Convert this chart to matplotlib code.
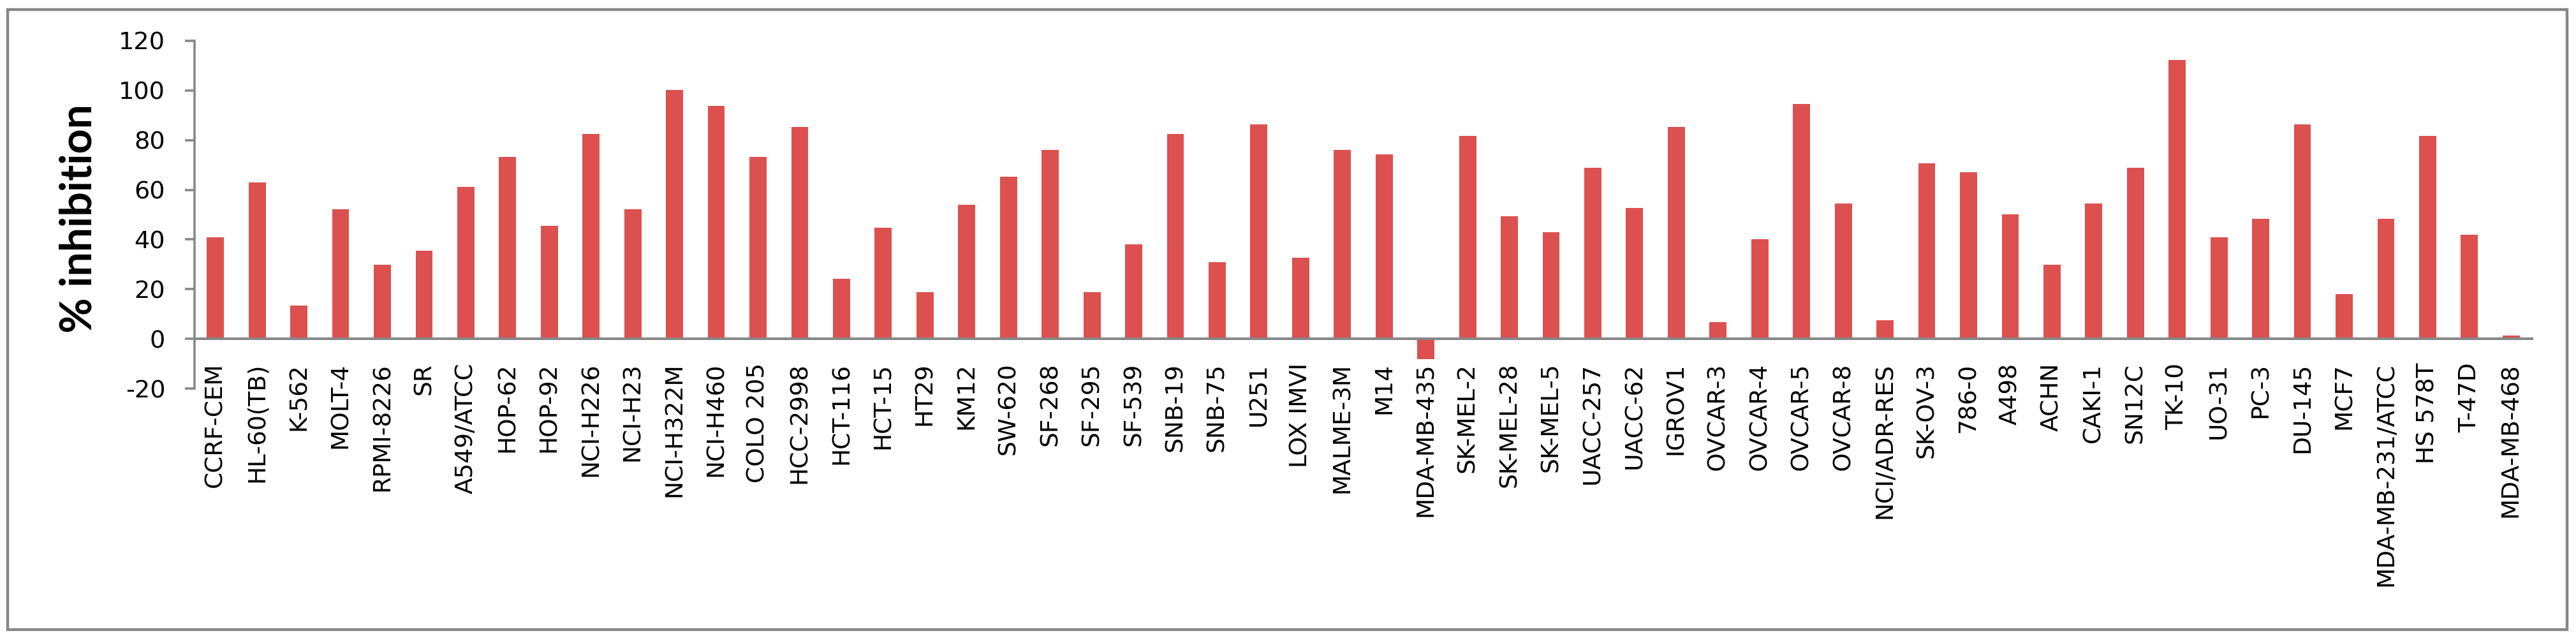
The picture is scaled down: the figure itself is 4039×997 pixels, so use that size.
import numpy as np
import matplotlib
matplotlib.use('Agg')
import matplotlib.pyplot as plt
from matplotlib.patches import Rectangle

# Datos: % de inhibición por línea celular
lineas = ['CCRF-CEM', 'HL-60(TB)', 'K-562', 'MOLT-4', 'RPMI-8226', 'SR', 'A549/ATCC',
          'HOP-62', 'HOP-92', 'NCI-H226', 'NCI-H23', 'NCI-H322M', 'NCI-H460', 'COLO 205',
          'HCC-2998', 'HCT-116', 'HCT-15', 'HT29', 'KM12', 'SW-620', 'SF-268', 'SF-295',
          'SF-539', 'SNB-19', 'SNB-75', 'U251', 'LOX IMVI', 'MALME-3M', 'M14', 'MDA-MB-435',
          'SK-MEL-2', 'SK-MEL-28', 'SK-MEL-5', 'UACC-257', 'UACC-62', 'IGROV1', 'OVCAR-3',
          'OVCAR-4', 'OVCAR-5', 'OVCAR-8', 'NCI/ADR-RES', 'SK-OV-3', '786-0', 'A498', 'ACHN',
          'CAKI-1', 'SN12C', 'TK-10', 'UO-31', 'PC-3', 'DU-145', 'MCF7', 'MDA-MB-231/ATCC',
          'HS 578T', 'T-47D', 'MDA-MB-468']
inhibicion = [40.8, 63.1, 13.3, 52.2, 29.9, 35.4, 61.3,
              73.3, 45.5, 82.6, 52.2, 100.2, 93.8, 73.3,
              85.4, 24.2, 44.7, 18.9, 54.0, 65.2, 76.1, 18.9,
              38.0, 82.6, 30.9, 86.3, 32.7, 76.1, 74.3, -8.1,
              81.8, 49.3, 42.9, 68.8, 52.8, 85.4, 6.8,
              40.2, 94.6, 54.6, 7.6, 70.6, 67.0, 50.1, 29.9,
              54.6, 68.8, 112.2, 40.8, 48.3, 86.3, 17.9, 48.3,
              81.8, 42.0, 1.3]
yticks = [-20, 0, 20, 40, 60, 80, 100, 120]

W, H = 4039, 997
gris = '#878787'
rojo = '#DD5050'

fig = plt.figure(figsize=(W / 100, H / 100), dpi=100)
ax = fig.add_axes([305 / W, 1 - 609 / H, (3970 - 305) / W, (609 - 64) / H])

x = np.arange(len(lineas))
ax.bar(x, inhibicion, width=0.41, color=rojo, zorder=2)

# el eje de categorías cruza en 0 (hay que fijarlo antes de las etiquetas)
for s in ['top', 'right']:
    ax.spines[s].set_visible(False)
ax.spines['bottom'].set_position(('data', 0))
ax.spines['left'].set_color(gris)
ax.spines['left'].set_linewidth(2.6)
ax.spines['bottom'].set_color(gris)
ax.spines['bottom'].set_linewidth(2.9)
ax.spines['bottom'].set_zorder(3)

ax.set_xlim(-0.5, len(lineas) - 0.5)
ax.set_ylim(-20, 120)
ax.set_yticks(yticks)
ax.set_yticklabels([str(v) for v in yticks], fontsize=27.5, family='DejaVu Sans')
ax.set_xticks(x)
ax.set_xticklabels(lineas, rotation=90, fontsize=27, family='DejaVu Sans')

ax.tick_params(axis='y', direction='out', length=11, width=2.6, color=gris, pad=22)
ax.tick_params(axis='x', length=0, pad=27)

fig.text(124 / W, 1 - 343 / H, '% inhibition', rotation=90, ha='center', va='center',
         fontsize=49, fontweight='bold', family='Lato')

# Marco exterior del gráfico
fig.patches.append(Rectangle((12 / W, 1 - 987 / H), (4025 - 12) / W, (987 - 15) / H,
                             transform=fig.transFigure, fill=False, edgecolor=gris, lw=3.2))

fig.savefig('out.png', dpi=100)
